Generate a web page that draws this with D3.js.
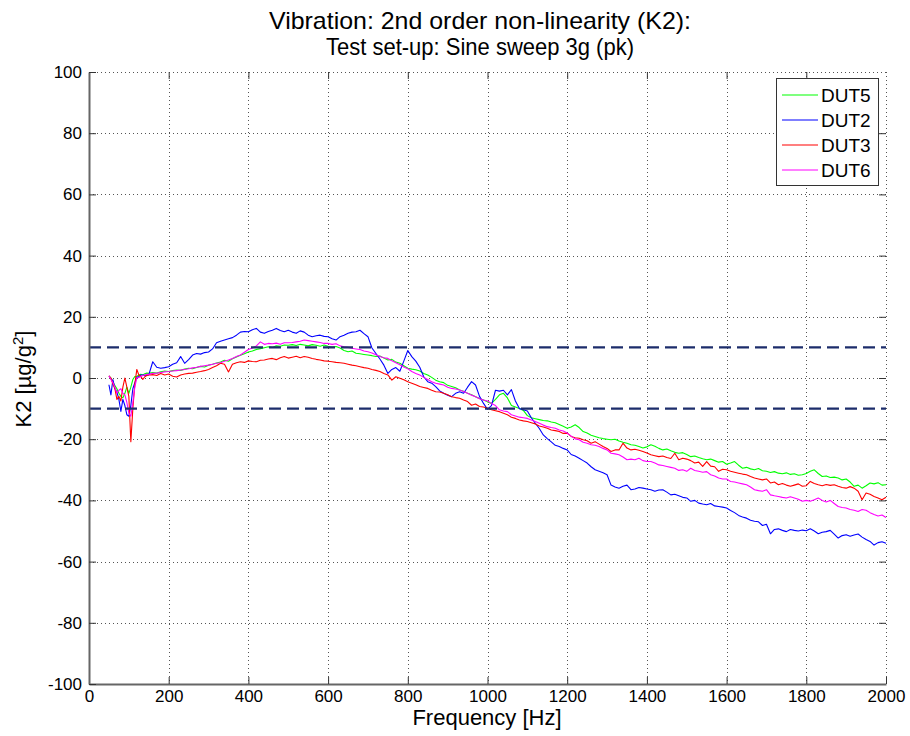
<!DOCTYPE html>
<html><head><meta charset="utf-8">
<script src="https://cdn.jsdelivr.net/npm/d3@7"></script>
<style>body{margin:0;background:#fff} text{font-family:"Liberation Sans",Arial,Helvetica,sans-serif;fill:#000}</style>
</head><body><svg id="c" width="910" height="736"></svg>
<script>
// ---------- data ----------
const freqLow = d3.range(50, 150, 5);      // 50..145 Hz
const freqHigh = d3.range(150, 2001, 10);  // 150..2000 Hz
const freq = freqLow.concat(freqHigh);

const xTicks = [0,200,400,600,800,1000,1200,1400,1600,1800,2000];
const yTicks = [-100,-80,-60,-40,-20,0,20,40,60,80,100];
const limits = [10, -10];
const seriesNames = ["DUT5","DUT2","DUT3","DUT6"];
const seriesColors = ["#00ff00","#0000ff","#ff0000","#ff00ff"];

const dut5 = [0.7,0,-1.2,-2.5,-3.5,-5,-6,-6.5,-5,-3,-5,-3,-0.5,0.5,0.5,1.0,1.2,1.0,1.4,1.6,
1.5,1.8,1.6,2.0,2.3,2.1,
2.4,2.6,2.5,2.9,3.2,3.0,3.4,3.8,3.6,4.2,
4.5,4.9,5.2,5.8,5.5,6.3,6.9,7.4,7.9,8.5,
8.8,9.3,9.6,9.9,10.2,10.0,10.5,10.4,10.8,10.7,
10.9,10.6,11.0,10.8,10.5,10.9,10.7,10.4,10.8,10.4,
10.1,10.3,9.8,9.0,8.6,8.8,8.1,7.9,7.7,7.5,
7.3,7.0,7.2,6.5,5.9,6.1,5.2,4.8,4.0,3.2,
2.9,2.7,2.3,1.5,1.0,0.2,-0.7,-1.2,-1.5,-2.4,
-2.8,-3.2,-3.9,-4.3,-5.0,-5.5,-6.1,-6.7,-7.2,-7.8,
-8.3,-7.0,-5.5,-5.0,-6.5,-9.0,-9.5,-10.0,-10.6,-12.3,
-13.0,-13.3,-13.6,-13.9,-14.0,-14.4,-14.6,-15.2,-15.8,-16.4,
-16.0,-15.3,-16.2,-17.5,-18.0,-18.7,-19.1,-19.5,-19.8,-20.0,
-20.2,-20.0,-20.6,-21.0,-21.3,-21.8,-22.0,-22.4,-22.9,-22.5,
-21.8,-22.3,-23.0,-23.5,-23.2,-23.8,-24.3,-24.6,-24.4,-25.0,
-25.7,-25.5,-26.0,-26.4,-26.7,-26.5,-27.0,-27.5,-27.3,-28.2,
-27.8,-27.3,-28.5,-29.5,-29.2,-29.7,-30.0,-29.6,-30.3,-30.5,
-30.9,-30.6,-31.1,-31.3,-31.0,-31.5,-31.3,-31.8,-31.6,-31.2,
-30.5,-30.0,-31.2,-32.2,-32.0,-32.5,-32.4,-32.7,-33.3,-33.0,
-34.0,-35.4,-35.0,-36.0,-35.2,-34.3,-34.6,-34.2,-35.0,-34.9];

const dut2 = [-2.2,-5.5,-0.5,-3.5,-4.5,-7,-10.9,-7,-9,-12,-12.5,-9,-3.5,-1.5,0.2,0.5,1.0,1.0,0.8,1.0,
1.0,5.3,3.5,3.2,3.4,3.7,
4.5,5.0,7.0,4.8,6.0,7.5,8.0,7.8,8.3,8.5,
9.5,11.5,12.0,12.4,12.8,13.2,14.0,15.0,15.2,15.1,
15.8,16.2,15.0,14.6,15.2,15.6,16.2,15.5,15.1,15.6,
15.0,14.6,15.4,15.0,14.0,13.5,13.8,14.0,13.6,13.5,
12.8,12.4,13.5,14.0,14.6,15.0,15.1,15.6,14.5,13.5,
9.8,8.0,6.2,4.2,1.5,2.8,3.4,2.2,5.5,9.0,
7.0,5.5,3.5,0.4,-1.2,-1.7,-2.8,-4.2,-5.0,-5.6,
-6.1,-5.0,-4.5,-5.0,-3.0,-1.2,-2.3,-6.0,-8.3,-10.2,
-9.0,-4.0,-4.3,-4.0,-5.5,-3.8,-7.5,-10.0,-10.4,-10.8,
-13.0,-14.8,-16.5,-18.6,-19.8,-20.9,-22.0,-22.4,-23.0,-23.5,
-25.0,-25.5,-26.2,-27.0,-27.8,-29.0,-30.0,-30.5,-31.0,-31.6,
-35.0,-35.6,-36.0,-35.4,-35.0,-36.5,-36.3,-35.8,-36.0,-36.3,
-36.5,-37.0,-36.6,-36.5,-37.3,-38.2,-38.0,-38.5,-39.0,-39.2,
-40.3,-40.0,-40.9,-41.2,-41.4,-41.0,-41.8,-42.0,-42.2,-42.5,
-43.3,-44.0,-44.9,-45.4,-45.8,-46.5,-46.8,-47.0,-48.2,-47.8,
-50.9,-49.5,-49.3,-49.8,-50.2,-49.5,-49.8,-50.0,-49.7,-49.9,
-49.3,-50.0,-50.9,-50.4,-50.2,-49.8,-51.0,-52.3,-51.5,-51.2,
-51.7,-51.3,-51.0,-52.0,-52.8,-53.4,-54.6,-53.8,-53.5,-54.0];

const dut3 = [0.7,0,-2,-3.5,-7,-6,-7.5,-3,0,-3,-6,-20.8,-10,-2,2.8,1.0,0.5,-0.5,0.4,0.8,
1.0,1.1,0.8,1.5,1.0,1.3,
0.6,0.3,1.0,1.3,1.5,1.6,1.9,2.1,2.4,2.8,
3.4,4.0,4.8,4.5,2.0,4.5,5.0,5.3,5.1,5.6,
5.4,5.3,5.8,5.9,6.2,6.4,6.0,6.6,7.0,6.5,
6.8,7.1,6.6,7.0,6.8,6.4,6.1,5.9,5.6,5.5,
5.3,5.1,5.0,4.8,4.5,4.2,4.0,3.7,3.4,3.2,
2.8,2.5,2.1,1.5,1.0,-0.7,0.4,-0.1,-0.6,-1.2,
-1.7,-2.2,-2.8,-3.1,-3.4,-4.0,-4.5,-4.6,-5.0,-5.5,
-6.1,-6.4,-6.6,-7.2,-7.7,-8.9,-8.5,-9.3,-9.5,-9.9,
-10.4,-10.7,-11.0,-11.5,-12.0,-12.8,-13.2,-13.7,-14.0,-14.2,
-14.6,-15.0,-15.7,-16.0,-16.4,-17.0,-17.2,-17.5,-18.1,-18.0,
-19.1,-19.5,-19.7,-20.2,-20.5,-21.3,-20.8,-21.6,-22.4,-23.0,
-24.0,-23.5,-23.5,-21.3,-22.9,-23.5,-23.3,-23.6,-24.0,-24.5,
-25.1,-25.4,-25.7,-25.5,-26.0,-26.3,-24.6,-26.7,-26.2,-26.5,
-27.0,-27.8,-27.5,-28.9,-27.3,-28.8,-29.0,-30.5,-29.8,-30.0,
-30.5,-30.8,-31.1,-31.4,-31.6,-32.2,-32.7,-33.0,-33.3,-33.0,
-34.3,-34.0,-34.9,-34.5,-35.0,-35.4,-35.0,-34.6,-35.4,-35.2,
-33.8,-34.5,-34.9,-35.2,-34.8,-35.1,-34.9,-35.4,-35.8,-36.0,
-35.5,-36.0,-37.0,-39.8,-37.6,-38.0,-38.7,-39.2,-39.8,-39.0];

const dut6 = [0.7,-0.5,-1.5,-3,-5,-4,-3.5,-5,-5.5,-8,-11.5,-12.5,-8,-3,0,0.2,0.5,0.8,1.0,1.2,
1.2,1.5,1.6,1.8,2.0,2.1,
2.3,2.4,2.6,2.8,3.0,3.3,3.5,3.8,4.0,4.2,
4.5,4.8,5.0,5.5,5.9,6.4,7.0,7.5,8.4,9.3,
9.8,10.5,11.8,11.0,11.3,11.2,11.4,11.0,11.5,11.5,
11.6,11.8,12.0,12.4,12.2,12.0,11.8,11.6,11.3,11.3,
11.0,11.2,10.5,10.2,10.0,9.7,9.5,9.3,8.8,8.6,
8.2,7.6,7.0,6.6,6.4,5.6,5.0,4.3,3.6,3.0,
2.1,1.5,1.0,0.2,-0.5,-1.2,-1.7,-2.0,-2.3,-3.0,
-3.4,-3.6,-3.9,-4.4,-5.0,-5.6,-6.1,-6.8,-7.2,-7.5,
-8.3,-9.0,-10.4,-10.8,-11.0,-12.0,-12.4,-12.8,-13.0,-13.2,
-13.7,-14.2,-14.8,-15.4,-15.9,-16.2,-16.4,-17.0,-17.3,-18.0,
-19.0,-19.9,-20.2,-21.0,-21.3,-21.8,-22.0,-22.4,-23.0,-23.5,
-24.6,-24.8,-25.1,-25.8,-26.7,-26.5,-26.7,-26.2,-27.0,-27.3,
-27.3,-27.8,-28.4,-28.6,-28.9,-29.2,-29.5,-30.2,-30.0,-30.5,
-29.5,-30.2,-30.5,-30.8,-30.6,-31.6,-32.0,-32.7,-33.0,-33.0,
-33.8,-34.0,-34.3,-34.6,-34.9,-35.6,-36.5,-36.8,-37.0,-36.5,
-38.2,-38.5,-38.7,-39.0,-39.2,-38.8,-39.2,-39.6,-40.3,-40.0,
-40.3,-39.8,-39.2,-40.0,-40.5,-40.0,-41.0,-42.0,-42.3,-42.5,
-43.0,-43.2,-43.6,-43.0,-43.2,-44.0,-44.6,-45.1,-44.8,-45.6];

const seriesValues = [dut5, dut2, dut3, dut6];

// ---------- chart ----------
const svg = d3.select("#c");
const L = 89, R = 886, T = 72, B = 684;
const x = d3.scaleLinear().domain([0, 2000]).range([L, R]);
const y = d3.scaleLinear().domain([-100, 100]).range([B, T]);
const fmt = d => String(d);

svg.append("rect").attr("width", 910).attr("height", 736).attr("fill", "#fff");

// grid
const grid = svg.append("g").attr("stroke", "#555").attr("stroke-width", 1).attr("stroke-dasharray", "1,3");
grid.selectAll(".gx").data(xTicks.slice(1, -1)).join("line")
  .attr("x1", d => Math.round(x(d)) + 0.5).attr("x2", d => Math.round(x(d)) + 0.5)
  .attr("y1", T).attr("y2", B);
grid.selectAll(".gy").data(yTicks.slice(1, -1)).join("line")
  .attr("y1", d => Math.round(y(d)) + 0.5).attr("y2", d => Math.round(y(d)) + 0.5)
  .attr("x1", L).attr("x2", R);
grid.append("line").attr("x1", L).attr("x2", R).attr("y1", T + 0.5).attr("y2", T + 0.5);
grid.append("line").attr("x1", R + 0.5).attr("x2", R + 0.5).attr("y1", T).attr("y2", B);

// series
const line = d3.line().x(d => x(d[0])).y(d => y(d[1]));
seriesValues.forEach((vals, i) => {
  svg.append("path")
    .datum(freq.map((f, j) => [f, vals[j]]))
    .attr("fill", "none")
    .attr("stroke", seriesColors[i])
    .attr("stroke-width", 1.1)
    .attr("stroke-linejoin", "round")
    .attr("d", line);
});

// limit lines
svg.selectAll(".lim").data(limits).join("line")
  .attr("x1", L).attr("x2", R)
  .attr("y1", d => y(d)).attr("y2", d => y(d))
  .attr("stroke", "#1c2d6b").attr("stroke-width", 2.2)
  .attr("stroke-dasharray", "12,6");

// axes
const axCol = "#666";
const gB = svg.append("g").attr("transform", `translate(0,${B})`)
  .call(d3.axisBottom(x).tickValues(xTicks).tickFormat(fmt).tickSizeInner(-7).tickSizeOuter(0).tickPadding(6));
const gLft = svg.append("g").attr("transform", `translate(${L},0)`)
  .call(d3.axisLeft(y).tickValues(yTicks).tickFormat(fmt).tickSizeInner(-7).tickSizeOuter(0).tickPadding(7));
svg.append("g").attr("transform", `translate(0,${T})`)
  .call(d3.axisTop(x).tickValues(xTicks.slice(1, -1)).tickSizeInner(-7).tickSizeOuter(0).tickFormat(""))
  .select(".domain").remove();
svg.append("g").attr("transform", `translate(${R},0)`)
  .call(d3.axisRight(y).tickValues(yTicks.slice(1, -1)).tickSizeInner(-7).tickSizeOuter(0).tickFormat(""))
  .select(".domain").remove();
svg.selectAll(".tick line").attr("stroke", "#333");
[gB, gLft].forEach(g => {
  g.select(".domain").attr("stroke", axCol).attr("stroke-width", 2);
  g.selectAll(".tick text").attr("font-size", 17).attr("fill", "#000")
    .style("font-family", '"Liberation Sans",Arial,sans-serif');
});

// legend
const lg = svg.append("g");
lg.append("rect").attr("x", 776.5).attr("y", 78.5).attr("width", 102).attr("height", 107)
  .attr("fill", "#fff").attr("stroke", "#333").attr("stroke-width", 1);
const rowY = d3.scalePoint().domain(seriesNames).range([95, 170]);
seriesNames.forEach((n, i) => {
  lg.append("line").attr("x1", 782).attr("x2", 818).attr("y1", rowY(n)).attr("y2", rowY(n))
    .attr("stroke", seriesColors[i]).attr("stroke-width", 1.2);
  lg.append("text").attr("x", 821).attr("y", rowY(n)).attr("dy", "0.36em")
    .attr("font-size", 19).text(n);
});

// titles
svg.append("text").attr("x", 480).attr("y", 29).attr("text-anchor", "middle")
  .attr("font-size", 24).attr("textLength", 422).attr("lengthAdjust", "spacingAndGlyphs")
  .text("Vibration: 2nd order non-linearity (K2):");
svg.append("text").attr("x", 480).attr("y", 55).attr("text-anchor", "middle")
  .attr("font-size", 24).attr("textLength", 308).attr("lengthAdjust", "spacingAndGlyphs")
  .text("Test set-up: Sine sweep 3g (pk)");

// axis labels
svg.append("text").attr("x", 487).attr("y", 725).attr("text-anchor", "middle")
  .attr("font-size", 22).text("Frequency [Hz]");
const yl = svg.append("text").attr("transform", "translate(31,379) rotate(-90)")
  .attr("text-anchor", "middle").attr("font-size", 22);
yl.append("tspan").text("K2 [µg/g");
yl.append("tspan").attr("font-size", 15).attr("dy", -8).text("2");
yl.append("tspan").attr("dy", 8).text("]");
</script>
</body></html>
